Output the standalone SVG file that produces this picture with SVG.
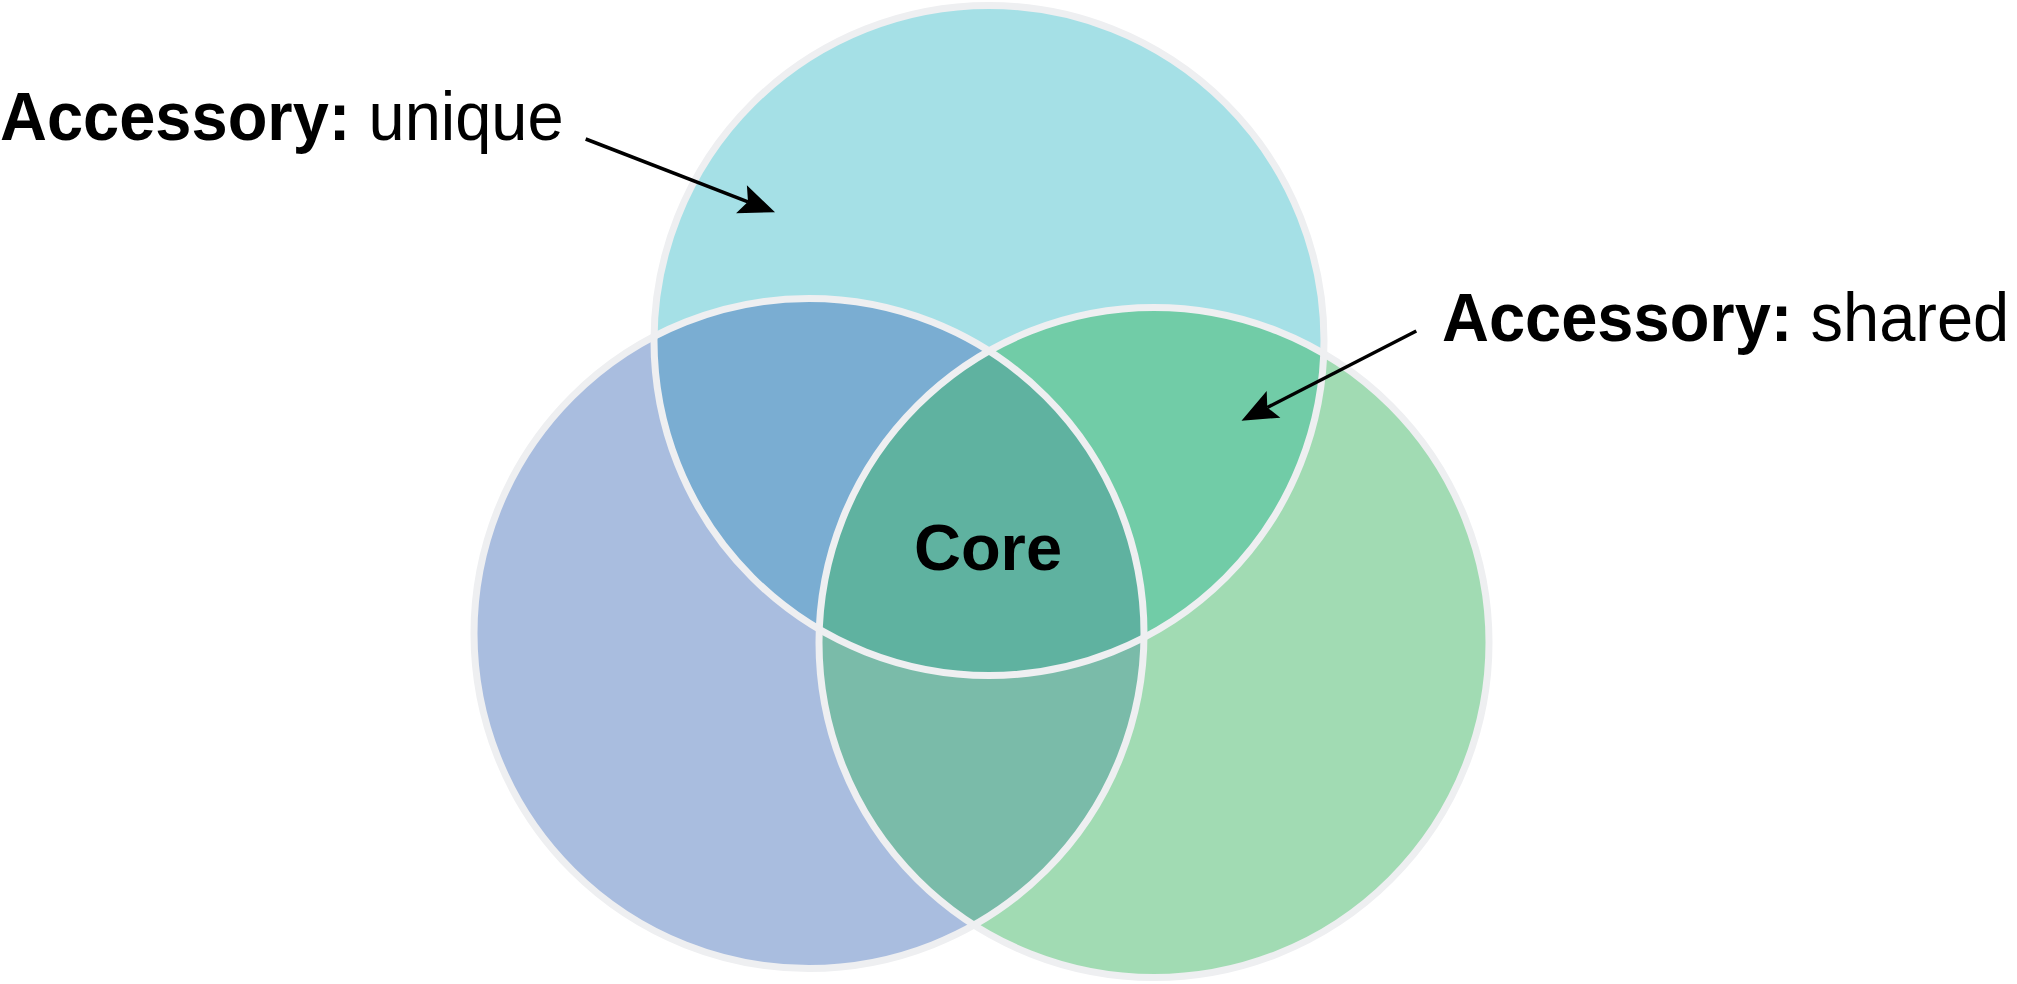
<svg xmlns="http://www.w3.org/2000/svg" width="2017" height="984" viewBox="0 0 2017 984">
<style>
.ring{fill:none;stroke:#eeeff1;stroke-width:7}
.lbl{font-family:"Liberation Sans",Arial,sans-serif;font-size:65px;fill:#000}
.b{font-weight:bold}
.conn{stroke:#000;stroke-width:3.5;fill:none}
</style>
<defs>
<clipPath id="clipA"><circle cx="989" cy="340.5" r="335"/></clipPath>
<clipPath id="clipB"><circle cx="809" cy="633.5" r="335"/></clipPath>
<clipPath id="clipC"><circle cx="1154" cy="642.5" r="335"/></clipPath>
<marker id="arr" markerUnits="userSpaceOnUse" viewBox="0 -16 37 32" markerWidth="37" markerHeight="32" refX="7" refY="0" orient="auto" overflow="visible">
<path d="M0,-15 L36,0 L0,15 L7,0 Z" fill="#000"/>
</marker>
</defs>
<rect width="2017" height="984" fill="#fff"/>
<g id="venn-fills">
<circle id="fillA" cx="989" cy="340.5" r="335" fill="#a5e0e6"/>
<circle id="fillB" cx="809" cy="633.5" r="335" fill="#a9bddf"/>
<circle id="fillC" cx="1154" cy="642.5" r="335" fill="#a1dbb3"/>
<circle cx="989" cy="340.5" r="335" fill="#7aadd2" clip-path="url(#clipB)"/>
<circle cx="989" cy="340.5" r="335" fill="#71cca7" clip-path="url(#clipC)"/>
<circle cx="809" cy="633.5" r="335" fill="#7abba9" clip-path="url(#clipC)"/>
<g clip-path="url(#clipB)"><circle cx="989" cy="340.5" r="335" fill="#5fb2a0" clip-path="url(#clipC)"/></g>
</g>
<g id="set-top"><circle class="ring" cx="989" cy="340.5" r="335"/></g>
<g id="set-left"><circle class="ring" cx="809" cy="633.5" r="335"/></g>
<g id="set-right"><circle class="ring" cx="1154" cy="642.5" r="335"/></g>
<g id="core"><text class="lbl b" x="988" y="570" text-anchor="middle">Core</text></g>
<g id="label-unique" transform="translate(0,140) scale(1,1.06)"><text class="lbl" x="0" y="0"><tspan class="b">Accessory:</tspan> unique</text></g>
<g id="label-shared" transform="translate(1442,341) scale(1,1.06)"><text class="lbl" x="0" y="0"><tspan class="b">Accessory:</tspan> shared</text></g>
<g id="connectors">
<line class="conn" x1="585.7" y1="139" x2="748" y2="201.8" marker-end="url(#arr)"/>
<line class="conn" x1="1416.3" y1="331" x2="1267.3" y2="407.5" marker-end="url(#arr)"/>
</g>
</svg>
